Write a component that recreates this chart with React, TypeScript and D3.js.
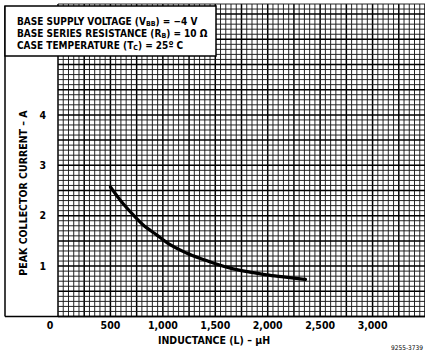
import React from "react";
import * as d3 from "d3";

// ---- data ----
const inductance = [500, 620, 715, 810, 940, 1065, 1225, 1415, 1480, 1670, 1830, 1990, 2150, 2360];
const current = [2.57, 2.24, 2.02, 1.82, 1.62, 1.43, 1.26, 1.11, 1.06, 0.945, 0.88, 0.825, 0.785, 0.735];
const xTicks = [0, 500, 1000, 1500, 2000, 2500, 3000];
const xTickLabels = ["0", "500", "1,000", "1,500", "2,000", "2,500", "3,000"];
const yTicks = [1, 2, 3, 4];
const xDomain = [0, 3500];
const yDomain = [0, 6.2];
const xMinorStep = 50;
const xMajorStep = 250;
const yMinorStep = 0.1;
const yMajorStep = 0.5;
const xTitle = "INDUCTANCE (L) – μH";
const yTitle = "PEAK COLLECTOR CURRENT – A";
const figId = "9255-3739";

const W = 425;
const H = 351;
const plot = { left: 58, right: 425, top: 4, bottom: 316.5 };
const font = "'DejaVu Sans Condensed', 'Liberation Sans', Arial, sans-serif";

export default function App() {
  const x = d3.scaleLinear().domain(xDomain).range([plot.left, plot.right]);
  const y = d3.scaleLinear().domain(yDomain).range([plot.bottom, plot.top]);

  const vLines = d3.range(xDomain[0], xDomain[1] + 1e-6, xMinorStep);
  const hLines = d3.range(yDomain[0], yDomain[1] + 1e-6, yMinorStep);
  const isMajX = (v: number) => Math.abs(v / xMajorStep - Math.round(v / xMajorStep)) < 1e-6;
  const isMajY = (v: number) => Math.abs(v / yMajorStep - Math.round(v / yMajorStep)) < 1e-6;

  const pts: [number, number][] = inductance.map((d, i) => [d, current[i]]);
  const line = d3
    .line<[number, number]>()
    .x((d) => x(d[0]))
    .y((d) => y(d[1]))
    .curve(d3.curveMonotoneX);

  const box = { x0: 5, y0: 6, x1: 216, y1: 56 };

  return (
    <svg
      width={W}
      height={H}
      style={{ position: "absolute", left: 0, top: 0, background: "#fff" }}
      fontFamily={font}
      fontWeight="bold"
    >
      <rect x={0} y={0} width={W} height={H} fill="#fff" />
      {/* grid */}
      <g>
        {vLines.map((v) => (
          <line
            key={"v" + v}
            x1={x(v)}
            x2={x(v)}
            y1={plot.top}
            y2={plot.bottom}
            stroke={isMajX(v) ? "#000" : "#1a1a1a"}
            strokeWidth={isMajX(v) ? 1.5 : 0.95}
          />
        ))}
        {hLines.map((v) => (
          <line
            key={"h" + v.toFixed(2)}
            x1={plot.left}
            x2={plot.right}
            y1={y(v)}
            y2={y(v)}
            stroke={isMajY(v) ? "#000" : "#1a1a1a"}
            strokeWidth={isMajY(v) ? 1.5 : 0.95}
          />
        ))}
      </g>
      {/* outer frame on left/bottom */}
      <line x1={box.x0} x2={box.x0} y1={box.y0} y2={plot.bottom} stroke="#000" strokeWidth={1.5} />
      <line x1={box.x0} x2={plot.left} y1={plot.bottom} y2={plot.bottom} stroke="#000" strokeWidth={1.5} />
      <line x1={plot.left} x2={plot.right} y1={plot.bottom} y2={plot.bottom} stroke="#000" strokeWidth={1.5} />
      {/* header box */}
      <rect
        x={box.x0}
        y={box.y0}
        width={box.x1 - box.x0}
        height={box.y1 - box.y0}
        fill="#fff"
        stroke="#000"
        strokeWidth={1.5}
      />
      <g fontSize={10} fill="#000">
        <text x={17} y={24.5}>
          BASE SUPPLY VOLTAGE (V<tspan fontSize={7} dy={1.5}>BB</tspan>
          <tspan dy={-1.5}>) = −4 V</tspan>
        </text>
        <text x={17} y={36.5}>
          BASE SERIES RESISTANCE (R<tspan fontSize={7} dy={1.5}>B</tspan>
          <tspan dy={-1.5}>) = 10 Ω</tspan>
        </text>
        <text x={17} y={48.5}>
          CASE TEMPERATURE (T<tspan fontSize={7} dy={1.5}>C</tspan>
          <tspan dy={-1.5}>) = 25º C</tspan>
        </text>
      </g>
      {/* curve */}
      <path d={line(pts) || ""} fill="none" stroke="#000" strokeWidth={3.2} strokeLinecap="round" />
      {/* y ticks */}
      <g fontSize={10.5} fill="#000">
        {yTicks.map((t) => (
          <text key={"yt" + t} x={46} y={y(t)} dy="0.35em" textAnchor="end">
            {t}
          </text>
        ))}
      </g>
      {/* x ticks */}
      <g fontSize={10.5} fill="#000">
        {xTicks.map((t, i) => (
          <text key={"xt" + t} x={x(t)} dx={t === 0 ? -8 : 0} y={329} textAnchor="middle">
            {xTickLabels[i]}
          </text>
        ))}
      </g>
      <text x={214} y={344} fontSize={10.5} textAnchor="middle">
        {xTitle}
      </text>
      <text transform={`translate(27, ${193}) rotate(-90)`} fontSize={10.5} textAnchor="middle">
        {yTitle}
      </text>
      <text x={391} y={350} fontSize={6.5} fontWeight="normal">
        {figId}
      </text>
    </svg>
  );
}
